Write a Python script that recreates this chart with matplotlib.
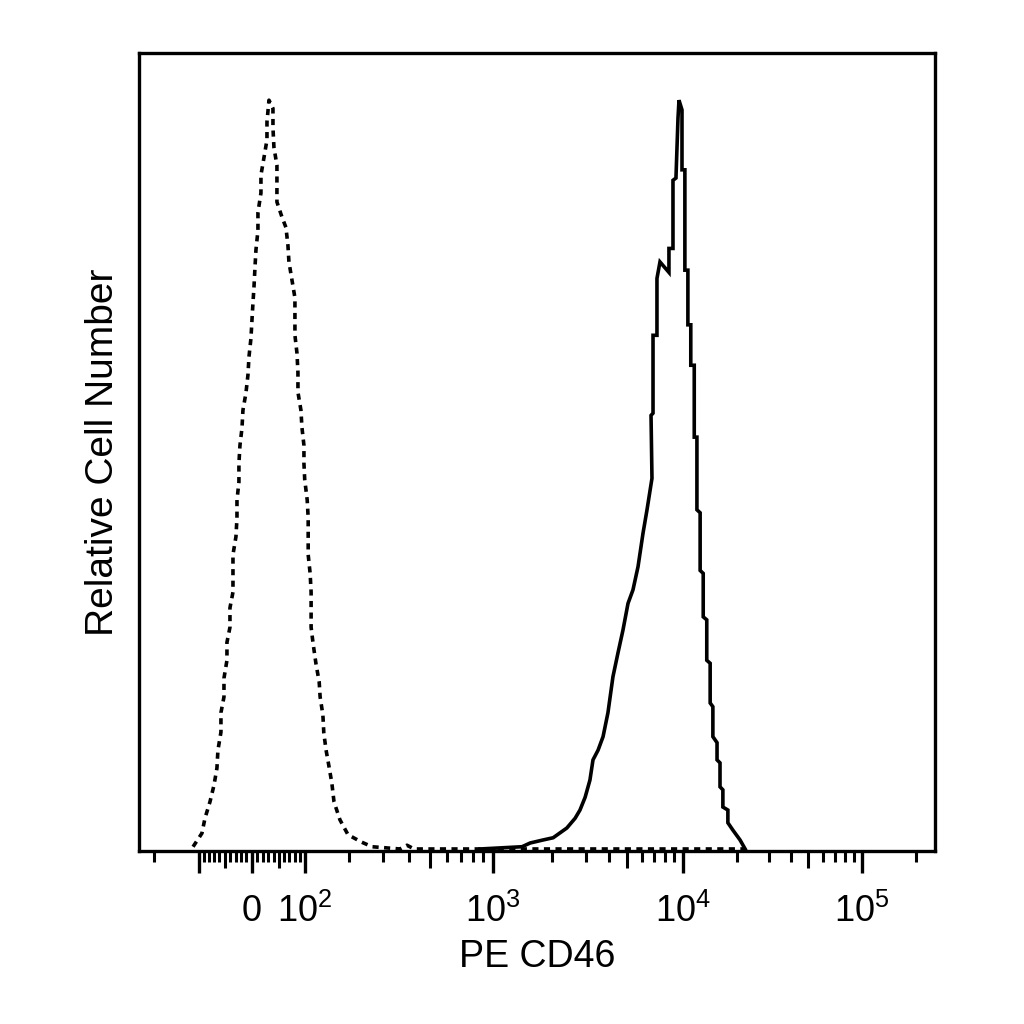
import numpy as np
import matplotlib
matplotlib.use('Agg')
import matplotlib.pyplot as plt

plt.rcParams['font.family'] = ['Liberation Sans', 'DejaVu Sans']
plt.rcParams['mathtext.default'] = 'regular'

# logicle (biexponential) display, as FlowJo draws it
T = 262144.0
M = 4.5
W = 0.655

# isotype control (dashed), PE fluorescence vs. % of mode
dash_x = [-112.0, -94.0, -88.0, -78.2, -70.5, -64.8, -62.9, -57.2, -57.2, -51.5, -51.5, -45.9, -45.9, -40.3, -40.3,
          -34.7, -34.7, -34.7, -29.2, -27.3, -27.3, -23.7, -23.7, -21.8, -18.1, -16.3, -10.8, -7.12, -5.29, -1.62,
          0.213, 2.05, 3.88, 5.71, 7.55, 11.2, 11.2, 16.7, 16.7, 22.2, 27.8, 27.8, 31.5, 38.9, 38.9, 40.7, 46.3,
          46.3, 46.3, 55.7, 63.3, 67.1, 69.0, 74.8, 80.6, 80.6, 80.6, 84.6, 86.5, 86.5, 92.4, 94.4, 98.4, 98.4,
          100.0, 105.0, 107.0, 107.0, 107.0, 111.0, 113.0, 113.0, 113.0, 117.0, 123.0, 130.0, 132.0, 138.0, 140.0,
          145.0, 151.0, 158.0, 163.0, 177.0, 197.0, 234.0, 264.0, 361.0, 390.0, 421.0, 22200.0]
dash_y = [0.3, 2.1, 4.1, 6.3, 8.5, 10.8, 13.2, 15.6, 18.2, 20.3, 22.8, 25.2, 27.6, 29.6, 32.2, 34.3, 36.8, 39.3,
          41.7, 44.2, 46.6, 49.0, 51.5, 53.9, 56.2, 58.6, 60.9, 63.3, 65.7, 68.2, 70.6, 72.9, 75.0, 77.6, 80.0,
          82.6, 85.0, 87.6, 90.0, 92.3, 94.7, 97.1, 100.0, 98.9, 96.3, 93.7, 91.3, 88.9, 86.4, 84.4, 83.0, 80.6,
          78.4, 76.0, 73.6, 71.0, 68.6, 66.2, 63.6, 61.0, 58.6, 56.3, 53.9, 51.5, 49.3, 46.6, 44.2, 41.7, 39.3,
          36.8, 34.3, 32.2, 29.6, 27.5, 24.8, 22.3, 20.3, 17.9, 15.5, 13.2, 11.2, 8.8, 6.3, 3.9, 1.9, 0.9, 0.3,
          0.0, 0.5, 0.0, 0.0]

# CD46 stained cells (solid)
solid_x = [867.0, 1400.0, 1540.0, 1790.0, 2020.0, 2380.0, 2630.0, 2790.0, 2970.0, 3150.0, 3270.0, 3480.0, 3700.0,
           3930.0, 4180.0, 4450.0, 4730.0, 5040.0, 5360.0, 5710.0, 6080.0, 6390.0, 6800.0, 6720.0, 6890.0, 6890.0,
           7240.0, 7240.0, 7520.0, 8420.0, 8420.0, 8860.0, 8860.0, 9200.0, 9440.0, 9560.0, 9930.0, 9930.0,
           10300.0, 10300.0, 10700.0, 10700.0, 11100.0, 11100.0, 11600.0, 11600.0, 12000.0, 12000.0, 12500.0,
           12500.0, 13000.0, 13000.0, 13600.0, 13600.0, 14200.0, 14200.0, 14700.0, 14700.0, 15500.0, 15500.0,
           16100.0, 16100.0, 16700.0, 16700.0, 17800.0, 17800.0, 19000.0, 20800.0, 22200.0]
solid_y = [0.0, 0.3, 0.8, 1.2, 1.5, 2.8, 4.1, 5.2, 6.9, 9.2, 11.9, 13.2, 15.0, 18.2, 23.0, 26.2, 29.2, 32.8, 34.6,
           37.7, 42.2, 45.3, 49.5, 57.9, 58.2, 68.6, 68.6, 76.2, 78.4, 77.0, 80.2, 80.2, 89.3, 89.6, 97.6, 100.0,
           98.7, 90.7, 90.7, 77.3, 77.3, 70.0, 70.0, 64.6, 64.6, 55.0, 55.0, 45.3, 44.9, 37.2, 36.8, 31.0, 30.6,
           25.2, 24.8, 19.5, 19.0, 15.0, 14.2, 11.9, 11.5, 8.3, 7.9, 5.6, 5.2, 3.5, 2.5, 1.2, 0.0]

major_ticks = [-100, 0, 100, 1e3, 1e4, 1e5]
major_labels = ['', '0', r'$10^{2}$', r'$10^{3}$', r'$10^{4}$', r'$10^{5}$']
mid_ticks = [-50, 50, 500, 5e3, 5e4]
minor_ticks = ([-200] + [-v for v in range(10, 100, 10) if v != 50] + [v for v in range(10, 100, 10) if v != 50]
               + [m * 10 ** e for e in (2, 3, 4) for m in range(2, 10) if m != 5] + [2e5])


def p_from_w(w):
    lo, hi = 1.0001, 100.0
    for _ in range(100):
        mid = 0.5 * (lo + hi)
        if 2 * mid * np.log10(mid) / (mid + 1) < w:
            lo = mid
        else:
            hi = mid
    return mid


p = p_from_w(W)
grid_y = np.linspace(-1.5, 4.8, 20001)
u = np.abs(grid_y - W)
grid_x = np.sign(grid_y - W) * T * 10 ** -(M - W) * (10 ** u - p ** 2 * 10 ** (-u / p) + p ** 2 - 1)


def fwd(x):
    return np.interp(x, grid_x, grid_y)


def inv(y):
    return np.interp(y, grid_y, grid_x)


fig = plt.figure(figsize=(10.24, 10.24), dpi=100)
ax = fig.add_axes([139 / 1024, 1 - 851 / 1024, 796 / 1024, 798 / 1024])
ax.set_xscale('function', functions=(fwd, inv))

ax.plot(dash_x, dash_y, color='black', lw=2.6, ls=(0, (1.7, 1.5)))
ax.plot(solid_x, solid_y, color='black', lw=2.6, solid_joinstyle='miter')

ax.set_xlim(-242, 255700)
ax.set_ylim(-0.27, 106.3)

ax.set_xticks(major_ticks, major_labels)
ax.set_xticks(minor_ticks, minor=True)
ax.set_yticks([])
ax.tick_params(axis='x', which='major', length=16, width=2.4, direction='out', labelsize=26, pad=15)
ax.tick_params(axis='x', which='minor', length=8, width=2.2, direction='out')
for s in ax.spines.values():
    s.set_linewidth(2.4)

# the 5x ticks are a bit longer than the other minor ones
ax2 = ax.twiny()
ax2.set_xscale('function', functions=(fwd, inv))
ax2.set_xlim(ax.get_xlim())
ax2.xaxis.set_ticks_position('bottom')
ax2.set_xticks(mid_ticks, [''] * len(mid_ticks))
ax2.set_xticks([], minor=True)
ax2.tick_params(axis='x', length=12, width=2.2, direction='out')
for s in ax2.spines.values():
    s.set_visible(False)

ax.set_xlabel('PE CD46', fontsize=27, labelpad=6)
ax.set_ylabel('Relative Cell Number', fontsize=28, labelpad=13)

fig.savefig('out.png', dpi=100, facecolor='white')
